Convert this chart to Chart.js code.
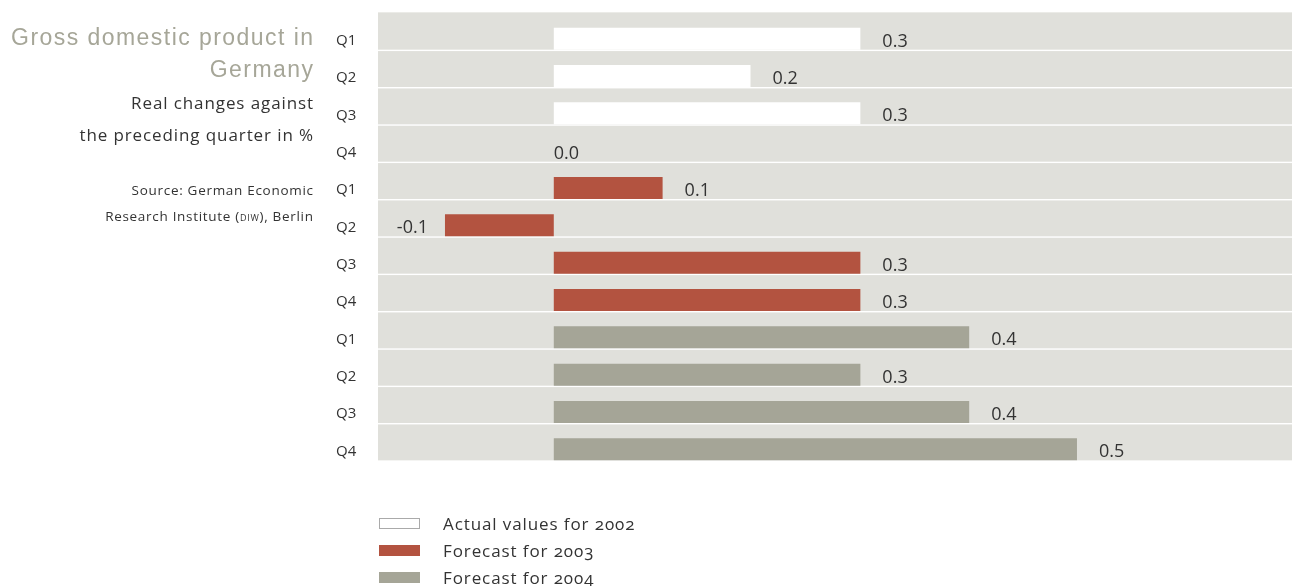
<!DOCTYPE html>
<html>
<head>
<meta charset="utf-8">
<script src="https://cdn.jsdelivr.net/npm/chart.js@4.4.0/dist/chart.umd.min.js"></script>
<style>
    html, body { margin: 0; padding: 0; background: #fff; }
    #wrap { position: relative; width: 1292px; height: 586px; overflow: hidden; }
    #chart { position: absolute; left: 0; top: 0; }
    .side { position: absolute; left: 0; text-align: right; white-space: nowrap; }
    #title { top: 21px; width: 314.5px; font: 23px/32px "Liberation Sans", Arial, sans-serif; color: #a6a698; letter-spacing: 1.45px; }
    #subtitle { top: 87px; width: 314px; font: 17px/31.5px "Open Sans", sans-serif; color: #333; letter-spacing: 0.9px; }
    #source { top: 177px; width: 313.7px; font: 13.5px/26px "Open Sans", sans-serif; color: #333; letter-spacing: 0.7px; }
    #legend { position: absolute; left: 379px; top: 510px; font: 17px "Open Sans", sans-serif; color: #333;
              font-feature-settings: "onum"; letter-spacing: 0.9px; }
    .item { height: 27px; display: flex; align-items: center; }
    .box { width: 41px; height: 11px; margin-right: 23px; box-sizing: border-box; }
</style>
</head>
<body>
<div id="wrap">
    <canvas id="chart" width="1292" height="586"></canvas>
    <div class="side" id="title">Gross domestic product in<br>Germany</div>
    <div class="side" id="subtitle">Real changes against<br>the preceding quarter in %</div>
    <div class="side" id="source">Source: German Economic<br>Research Institute (<span style="font-variant: small-caps">diw</span>), Berlin</div>
    <div id="legend"></div>
</div>
<script>
// quarters 2002, 2003, 2004 from top to bottom
const categories = ['Q1', 'Q2', 'Q3', 'Q4', 'Q1', 'Q2', 'Q3', 'Q4', 'Q1', 'Q2', 'Q3', 'Q4'];
const actual2002   = [0.293, 0.188, 0.293, 0.0, null, null, null, null, null, null, null, null];
const forecast2003 = [null, null, null, null, 0.104, -0.104, 0.293, 0.293, null, null, null, null];
const forecast2004 = [null, null, null, null, null, null, null, null, 0.397, 0.293, 0.397, 0.5];
const seriesNames  = ['Actual values for 2002', 'Forecast for 2003', 'Forecast for 2004'];
const seriesColors = ['#ffffff', '#b35340', '#a5a597'];

const BAR_PCT = 0.59;

// grey bands with white separators, each band ends at the bottom of its bar
const bandsPlugin = {
    id: 'bands',
    beforeDatasetsDraw(chart) {
        const ctx = chart.ctx, y = chart.scales.y, area = chart.chartArea;
        const band = y.getPixelForValue(1) - y.getPixelForValue(0);
        const half = band * BAR_PCT / 2;
        const top = y.getPixelForValue(0) + half - band;
        const bottom = y.getPixelForValue(categories.length - 1) + half;
        ctx.save();
        ctx.fillStyle = '#e0e0db';
        ctx.fillRect(area.left, top, area.right - area.left, bottom - top);
        ctx.fillStyle = '#ffffff';
        for (let i = 0; i < categories.length - 1; i++) {
            const yy = y.getPixelForValue(i) + half;
            ctx.fillRect(area.left, yy, area.right - area.left, 1.4);
        }
        ctx.restore();
    }
};

// value labels next to the bar ends
const valueLabels = {
    id: 'valueLabels',
    afterDatasetsDraw(chart) {
        const ctx = chart.ctx, x = chart.scales.x;
        const zero = x.getPixelForValue(0);
        ctx.save();
        ctx.font = '18px "Open Sans", sans-serif';
        ctx.fillStyle = '#333';
        ctx.textBaseline = 'middle';
        chart.data.datasets.forEach((ds, di) => {
            chart.getDatasetMeta(di).data.forEach((el, i) => {
                const v = ds.data[i];
                if (v === null) return;
                const txt = v.toFixed(1);
                if (v > 0) { ctx.textAlign = 'left'; ctx.fillText(txt, el.x + 22, el.y + 3); }
                else if (v < 0) { ctx.textAlign = 'right'; ctx.fillText(txt, el.x - 17, el.y + 3); }
                else { ctx.textAlign = 'left'; ctx.fillText(txt, zero, el.y + 3); }
            });
        });
        ctx.restore();
    }
};

const ctx = document.getElementById('chart').getContext('2d');
const chart = new Chart(ctx, {
    type: 'bar',
    data: {
        labels: categories,
        datasets: [
            { label: seriesNames[0], data: actual2002, backgroundColor: seriesColors[0] },
            { label: seriesNames[1], data: forecast2003, backgroundColor: seriesColors[1] },
            { label: seriesNames[2], data: forecast2004, backgroundColor: seriesColors[2] }
        ]
    },
    options: {
        indexAxis: 'y',
        responsive: false,
        animation: false,
        grouped: false,
        categoryPercentage: 1,
        barPercentage: BAR_PCT,
        layout: { padding: { left: 336, right: 0, top: 20, bottom: 118 } },
        scales: {
            x: { display: false, min: -0.168, max: 0.7055 },
            y: {
                grid: { display: false },
                border: { display: false },
                ticks: {
                    color: '#333',
                    font: { family: 'Open Sans', size: 15 },
                    crossAlign: 'far',
                    padding: 0,
                    labelOffset: 2
                },
                afterFit(scale) { scale.width = 42; }
            }
        },
        plugins: {
            legend: { display: false },
            tooltip: { enabled: false }
        }
    },
    plugins: [bandsPlugin, valueLabels]
});

// legend built from the chart datasets
const legendEl = document.getElementById('legend');
chart.data.datasets.forEach(ds => {
    const row = document.createElement('div');
    row.className = 'item';
    const box = document.createElement('span');
    box.className = 'box';
    box.style.background = ds.backgroundColor;
    if (ds.backgroundColor === '#ffffff') box.style.border = '1px solid #aaa';
    row.appendChild(box);
    row.appendChild(document.createTextNode(ds.label));
    legendEl.appendChild(row);
});
</script>
</body>
</html>
